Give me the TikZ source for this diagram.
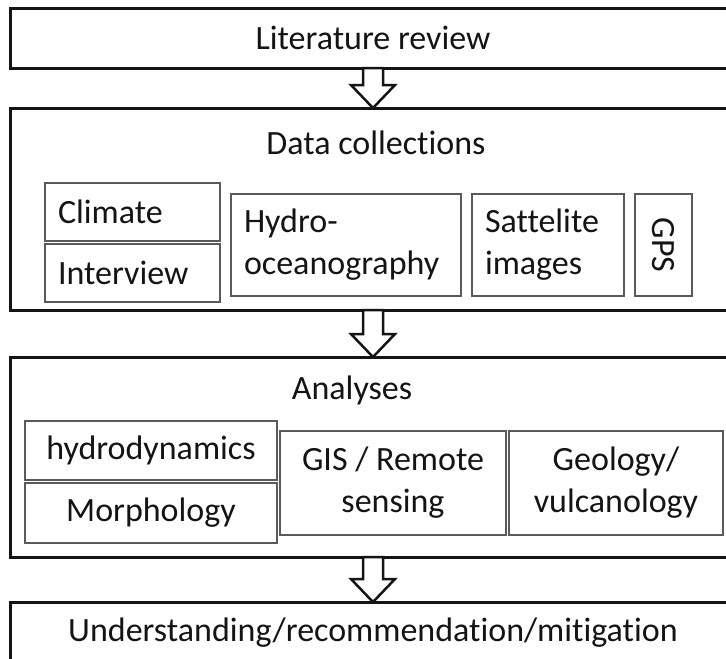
\documentclass[tikz,border=0pt]{standalone}
\usepackage{fontspec}
\setmainfont{Carlito}[Ligatures=NoCommon]
\usepackage{tikz}
\usetikzlibrary{positioning, calc}
\definecolor{flowblack}{HTML}{141414}
\definecolor{flowgray}{HTML}{5A5A5A}

\begin{document}
\begin{tikzpicture}[x=1pt, y=-1pt, font=\fontsize{34}{42}\selectfont,
  stage/.style={draw=flowblack, line width=3pt, fill=white, outer sep=0pt, anchor=north west, text=flowblack},
  part/.style={draw=flowgray, line width=1.5pt, outer sep=0pt, inner xsep=13pt, inner ysep=0pt, anchor=north west, text=flowblack},
  leftpart/.style={part, align=left},
  heading/.style={text=flowblack},
  blockarrow/.style={draw=flowblack, line width=2.5pt, fill=white, line join=miter}]
  \useasboundingbox (0,0) rectangle (726,659);
  \clip (0,0) rectangle (726,659);
  % stages
  \node[stage, minimum width=726, minimum height=60] (lit) at (10,8) {Literature review};
  \node[stage, minimum width=726, minimum height=202] (datacol) at (10,108) {};
  \node[stage, minimum width=726, minimum height=200] (analyses) at (10,357) {};
  \node[stage, minimum width=726, minimum height=62] (outcome) at (10,602) {Understanding/recommendation/mitigation};
  % data collections
  \node[heading] (datatitle) at (376,143) {Data collections};
  \node[leftpart, minimum width=175, text width=149, minimum height=58] (climate) at (45,183) {Climate};
  \node[leftpart, minimum width=175, text width=149, minimum height=58] (interview) at (45,244) {Interview};
  \node[leftpart, minimum width=230, text width=204, minimum height=102] (hydro) at (231,194) {Hydro-\\oceanography};
  \node[leftpart, minimum width=152, text width=126, minimum height=102] (sat) at (472,194) {Sattelite\\images};
  \node[part, minimum width=57, minimum height=102] (gps) at (635,194) {};
  \node[heading, rotate=-90] (gpstext) at (gps.center) {GPS};
  % analyses
  \node[heading] (anatitle) at (352,390) {Analyses};
  \node[part, minimum width=252, minimum height=59] (hydrodyn) at (25,421) {hydrodynamics};
  \node[part, minimum width=252, minimum height=60] (morph) at (25,483) {Morphology};
  \node[part, align=center, minimum width=226, minimum height=104] (gis) at (280,431) {GIS / Remote\\sensing};
  \node[part, align=center, minimum width=214, minimum height=104] (geo) at (509,431) {Geology/\\vulcanology};
  % arrows between stages
  \foreach \a/\b in {lit/datacol, datacol/analyses, analyses/outcome}
    \draw[blockarrow] ($(\a.south)+(-10,0)$) -- ($(\b.north)+(-10,-23)$) -- ($(\b.north)+(-22,-23)$)
      -- (\b.north) -- ($(\b.north)+(22,-23)$) -- ($(\b.north)+(10,-23)$) -- ($(\a.south)+(10,0)$) -- cycle;
\end{tikzpicture}
\end{document}
